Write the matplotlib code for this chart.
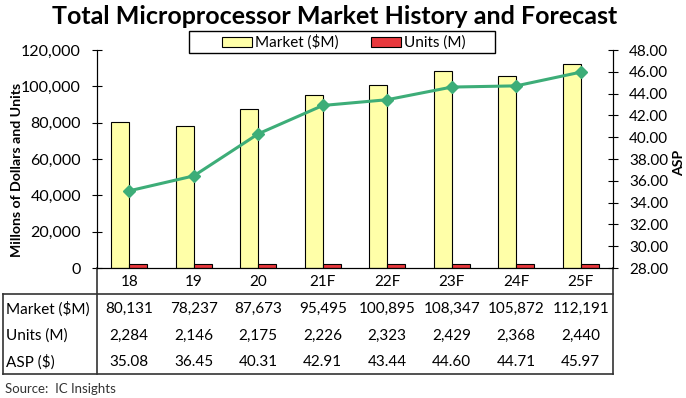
import matplotlib.pyplot as plt
import numpy as np
from matplotlib.patches import Patch, Rectangle

plt.rcParams["font.family"] = ["Lato", "DejaVu Sans"]

years = ["18", "19", "20", "21F", "22F", "23F", "24F", "25F"]
market = [80131, 78237, 87673, 95495, 100895, 108347, 105872, 112191]
units = [2284, 2146, 2175, 2226, 2323, 2429, 2368, 2440]
asp = [35.08, 36.45, 40.31, 42.91, 43.44, 44.60, 44.71, 45.97]

yellow = "#FFFFA8"
red = "#E8383D"
green = "#3DAD78"

fig = plt.figure(figsize=(6.86, 3.98), dpi=100)
ax = fig.add_axes([97 / 686, 1 - 268 / 398, (613 - 97) / 686, (268 - 50) / 398])
x = np.arange(len(years))
w = 0.28

ax.bar(x - w / 2, market, w, color=yellow, edgecolor="black", linewidth=0.8, zorder=2)
ax.bar(x + w / 2, units, w, color=red, edgecolor="black", linewidth=0.8, zorder=2)
ax.set_xlim(-0.5, len(years) - 0.5)
ax.set_ylim(0, 120000)
ax.set_yticks(range(0, 120001, 20000))
ax.yaxis.set_major_formatter(plt.FuncFormatter(lambda v, p: f"{v:,.0f}"))
ax.tick_params(axis="y", direction="inout", length=7, labelsize=11.5, pad=8)
ax.set_xticks(x, years)
ax.tick_params(axis="x", length=0, labelsize=11, pad=5)
ax.spines["top"].set_visible(False)

ax2 = ax.twinx()
ax2.plot(x, asp, color=green, linewidth=2.2, marker="D", markersize=6.5, zorder=3)
ax2.set_ylim(28, 48)
ax2.set_yticks(np.arange(28, 48.1, 2))
ax2.yaxis.set_major_formatter(plt.FuncFormatter(lambda v, p: f"{v:.2f}"))
ax2.tick_params(axis="y", direction="inout", length=7, labelsize=11, pad=8)
ax2.spines["top"].set_visible(False)

fig.text(17 / 686, 1 - 170 / 398, "Millons of Dollars and Units", rotation=90,
         ha="center", va="center", fontsize=10.2, fontweight="bold")
fig.text(679 / 686, 1 - 163 / 398, "ASP", rotation=90,
         ha="center", va="center", fontsize=10.2, fontweight="bold")

# data table below the chart
px = 1 / 218  # one pixel in axes-y units
top_y = -(294 - 268) * px
bot_y = -(374 - 268) * px
left_x = -(97 - 3) / 516
rows = [("Market ($M)", [f"{v:,}" for v in market]),
        ("Units (M)", [f"{v:,}" for v in units]),
        ("ASP ($)", [f"{v:.2f}" for v in asp])]
row_h = (top_y - bot_y) / 3
for i, (lab, vals) in enumerate(rows):
    yc = top_y - row_h * (i + 0.5) - 1.5 * px
    ax.text(left_x + 0.006, yc, lab, transform=ax.transAxes, ha="left", va="center", fontsize=11)
    for xi, v in zip(x, vals):
        ax.text(xi, yc, v, transform=ax.get_xaxis_transform(), ha="center", va="center", fontsize=11)

lk = dict(transform=ax.transAxes, color="#333333", linewidth=1.2, clip_on=False)
ax.plot([left_x, 1], [top_y, top_y], **lk)
ax.plot([left_x, 1], [bot_y, bot_y], **lk)
ax.plot([left_x, left_x], [top_y, bot_y], **lk)
ax.plot([0, 0], [0, bot_y], **lk)
ax.plot([1, 1], [0, bot_y], **lk)

# legend: frame drawn separately since it is wider than its contents
fig.patches.append(Rectangle((189 / 686, 1 - 53 / 398), (495 - 189) / 686, 22 / 398,
                             transform=fig.transFigure, facecolor="white", edgecolor="black",
                             linewidth=1.0, zorder=5))
handles = [Patch(facecolor=yellow, edgecolor="black", linewidth=0.8, label="Market ($M)"),
           Patch(facecolor=red, edgecolor="black", linewidth=0.8, label="Units (M)")]
leg = fig.legend(handles=handles, loc="center", bbox_to_anchor=(344 / 686, 1 - 42.5 / 398), ncol=2,
                 fontsize=11, frameon=False, handlelength=1.96, handleheight=0.6,
                 handletextpad=0.2, columnspacing=2.1, borderpad=0, borderaxespad=0)
leg.set_zorder(6)

fig.text(335 / 686, 1 - 16 / 398, "Total Microprocessor Market History and Forecast",
         ha="center", va="center", fontsize=18, fontweight="bold")
fig.text(5 / 686, 1 - 389 / 398, "Source:  IC Insights", ha="left", va="center", fontsize=9.5, color="#333333")

fig.savefig("out.png", dpi=100)
